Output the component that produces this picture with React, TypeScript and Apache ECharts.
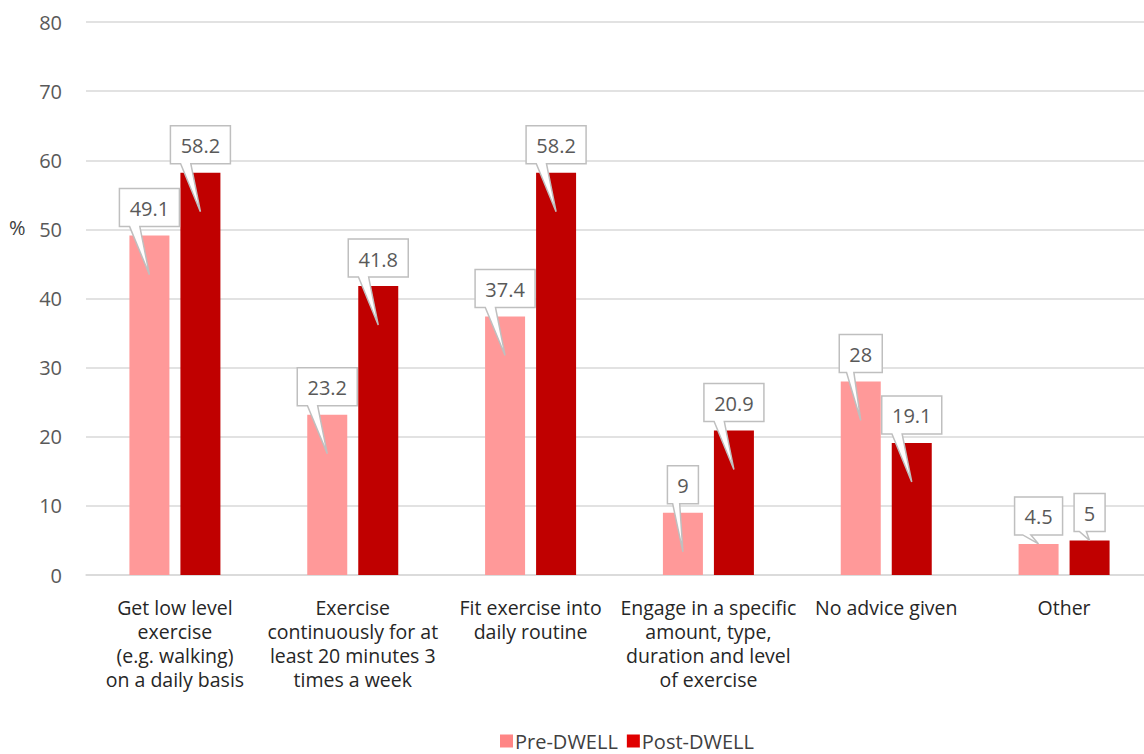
import React, { useEffect, useRef } from "react";
import * as echarts from "echarts";

const categories = [
  "Get low level\nexercise\n(e.g. walking)\non a daily basis",
  "Exercise\ncontinuously for at\nleast 20 minutes 3\ntimes a week",
  "Fit exercise into\ndaily routine",
  "Engage in a specific\namount, type,\nduration and level\nof exercise",
  "No advice given",
  "Other",
];
const preDwell = [49.1, 23.2, 37.4, 9, 28, 4.5];
const postDwell = [58.2, 41.8, 58.2, 20.9, 19.1, 5];
const seriesNames = ["Pre-DWELL", "Post-DWELL"];
const yMin = 0;
const yMax = 80;
const yStep = 10;

const FONT = "'Open Sans', 'Noto Sans', sans-serif";
const PRE_COLOR = "#FF9999";
const POST_COLOR = "#C00000";
const BAR_WIDTH = 40;
const BAR_GAP = 11;

let measureCtx: CanvasRenderingContext2D | null = null;
function textWidth(s: string): number {
  if (!measureCtx) {
    const c = document.createElement("canvas");
    measureCtx = c.getContext("2d");
  }
  if (!measureCtx) return s.length * 11;
  measureCtx.font = `20px ${FONT}`;
  return measureCtx.measureText(s).width;
}

// Callout box with a pointer tail aimed into the bar
function calloutRenderer(sign: number) {
  return (params: any, api: any) => {
    const cat = api.value(0);
    const val = api.value(1);
    const p = api.coord([cat, val]);
    const zero = api.coord([cat, 0]);
    const cx = p[0] + (sign * (BAR_WIDTH + BAR_GAP)) / 2;
    const top = p[1];
    const label = String(val);
    const w = Math.round(textWidth(label) + 20);
    const h = 38;
    const left = cx - w / 2;
    const right = cx + w / 2;
    const bottom = top - 9;
    const boxTop = bottom - h;
    const barH = zero[1] - top;
    const tipY = barH > 50 ? top + 39 : top;
    const b0 = left + w * 0.17;
    const b1 = b0 + Math.max(7, w * 0.17);
    return {
      type: "group",
      children: [
        {
          type: "polygon",
          shape: {
            points: [
              [left, boxTop],
              [right, boxTop],
              [right, bottom],
              [b1, bottom],
              [cx, tipY],
              [b0, bottom],
              [left, bottom],
            ],
          },
          style: { fill: "#FFFFFF", stroke: "#BFBFBF", lineWidth: 1.5 },
        },
        {
          type: "text",
          x: cx,
          y: boxTop + h / 2 + 1,
          style: {
            text: label,
            fontSize: 20,
            fontFamily: FONT,
            fill: "#595959",
            align: "center",
            verticalAlign: "middle",
          },
        },
      ],
    };
  };
}

export default function App() {
  const ref = useRef<HTMLDivElement>(null);

  useEffect(() => {
    if (!ref.current) return;
    const chart = echarts.init(ref.current, undefined, { renderer: "svg" });
    chart.setOption({
      animation: false,
      backgroundColor: "#FFFFFF",
      textStyle: { fontFamily: FONT },
      grid: { left: 86, right: 0, top: 22, bottom: 179, containLabel: false },
      legend: {
        left: 500,
        top: 731,
        padding: 0,
        itemWidth: 13,
        itemHeight: 13,
        itemGap: 9,
        icon: "rect",
        textStyle: { fontSize: 20, color: "#404040", fontFamily: FONT, padding: [0, 0, 0, -3] },
        data: [
          { name: seriesNames[0], itemStyle: { color: "#FF8585" } },
          { name: seriesNames[1], itemStyle: { color: "#E00000" } },
        ],
      },
      xAxis: {
        type: "category",
        data: categories,
        axisLine: { show: true, lineStyle: { color: "#D9D9D9", width: 1.5 } },
        axisTick: { show: false },
        axisLabel: {
          interval: 0,
          margin: 20,
          fontSize: 19.5,
          lineHeight: 24,
          color: "#262626",
          fontFamily: FONT,
          align: "center",
        },
      },
      yAxis: {
        type: "value",
        min: yMin,
        max: yMax,
        interval: yStep,
        axisLine: { show: false },
        axisTick: { show: false },
        splitLine: { lineStyle: { color: "#D9D9D9", width: 1.5 } },
        axisLabel: { fontSize: 20, color: "#595959", margin: 24, fontFamily: FONT },
      },
      graphic: [
        {
          type: "text",
          left: 9,
          top: 217,
          style: { text: "%", fontSize: 20, fill: "#404040", fontFamily: FONT },
        },
      ],
      series: [
        {
          name: seriesNames[0],
          type: "bar",
          data: preDwell,
          barWidth: BAR_WIDTH,
          barGap: `${(BAR_GAP / BAR_WIDTH) * 100}%`,
          itemStyle: { color: PRE_COLOR },
        },
        {
          name: seriesNames[1],
          type: "bar",
          data: postDwell,
          barWidth: BAR_WIDTH,
          barGap: `${(BAR_GAP / BAR_WIDTH) * 100}%`,
          itemStyle: { color: POST_COLOR },
        },
        {
          name: "pre-callouts",
          type: "custom",
          data: preDwell.map((v, i) => [i, v]),
          encode: { x: 0, y: 1 },
          renderItem: calloutRenderer(-1),
          clip: false,
          z: 5,
        },
        {
          name: "post-callouts",
          type: "custom",
          data: postDwell.map((v, i) => [i, v]),
          encode: { x: 0, y: 1 },
          renderItem: calloutRenderer(1),
          clip: false,
          z: 5,
        },
      ],
    });
    return () => chart.dispose();
  }, []);

  // The plot area runs a few pixels past the visible right edge.
  return (
    <div
      style={{
        position: "absolute",
        left: 0,
        top: 0,
        width: 1144,
        height: 754,
        overflow: "hidden",
      }}
    >
      <div ref={ref} style={{ width: 1153, height: 754 }} />
    </div>
  );
}
